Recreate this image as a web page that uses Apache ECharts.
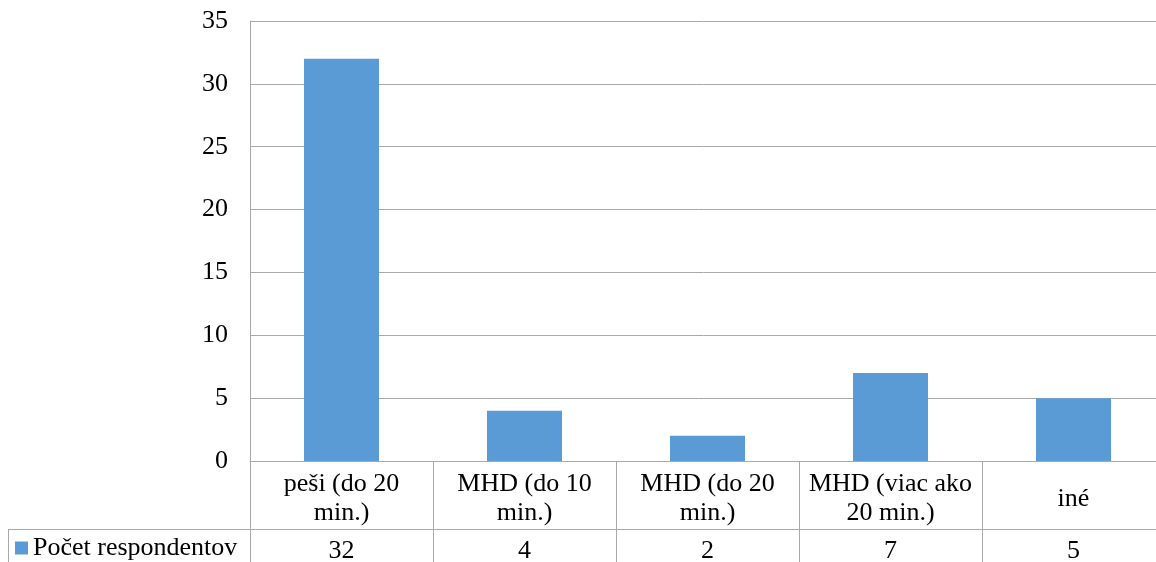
<!DOCTYPE html>
<html>
<head>
<meta charset="utf-8">
<script src="https://cdn.jsdelivr.net/npm/echarts@6/dist/echarts.min.js"></script>
<style>html,body{margin:0;padding:0;background:#fff;}#c{width:1156px;height:562px;}</style>
</head>
<body>
<div id="c"></div>
<script>
var categories = ["peši (do 20\nmin.)", "MHD (do 10\nmin.)", "MHD (do 20\nmin.)", "MHD (viac ako\n20 min.)", "iné"];
var seriesName = "Počet respondentov";
var values = [32, 4, 2, 7, 5];
var yTicks = { min: 0, max: 35, interval: 5 };

var FONT = "'Liberation Serif', 'Times New Roman', serif";
var GRAY = "#a9a9a9";
var chart = echarts.init(document.getElementById('c'));
chart.setOption({
  animation: false,
  backgroundColor: '#fff',
  grid: { left: 250, width: 915, top: 21, bottom: 101, containLabel: false, outerBoundsMode: 'none' },
  legend: {
    data: [seriesName], left: 15, top: 535, padding: 0, icon: 'rect', itemWidth: 13, itemHeight: 13, itemGap: 5,
    textStyle: { fontFamily: FONT, fontSize: 26, color: '#000' }
  },
  xAxis: [{
    type: 'category', data: categories, boundaryGap: true,
    axisLine: { show: true, lineStyle: { color: GRAY, width: 1 } },
    axisTick: { show: true, length: 101, interval: 0, lineStyle: { color: GRAY, width: 1 } },
    axisLabel: { interval: 0, margin: 38, verticalAlign: 'middle', fontFamily: FONT, fontSize: 26, color: '#000', lineHeight: 29 }
  }, {
    type: 'category', data: values.map(String), position: 'bottom', gridIndex: 0,
    axisLine: { show: false }, axisTick: { show: false },
    axisLabel: { interval: 0, margin: 90, verticalAlign: 'middle', fontFamily: FONT, fontSize: 26, color: '#000' }
  }],
  yAxis: {
    type: 'value', min: yTicks.min, max: yTicks.max, interval: yTicks.interval,
    axisLine: { show: true, lineStyle: { color: GRAY, width: 1 } },
    axisTick: { show: false },
    splitLine: { show: true, lineStyle: { color: GRAY, width: 1 } },
    axisLabel: { margin: 22, verticalAlign: 'middle', fontFamily: FONT, fontSize: 26, color: '#000' }
  },
  series: [{
    name: seriesName, type: 'bar', data: values, xAxisIndex: 0,
    barWidth: '41%', itemStyle: { color: '#5b9bd5' }
  }],
  graphic: [
    { type: 'line', shape: { x1: 8, y1: 529.5, x2: 1156, y2: 529.5 }, style: { stroke: GRAY, lineWidth: 1 } },
    { type: 'line', shape: { x1: 8.5, y1: 529, x2: 8.5, y2: 562 }, style: { stroke: GRAY, lineWidth: 1 } }
  ]
});
</script>
</body>
</html>
